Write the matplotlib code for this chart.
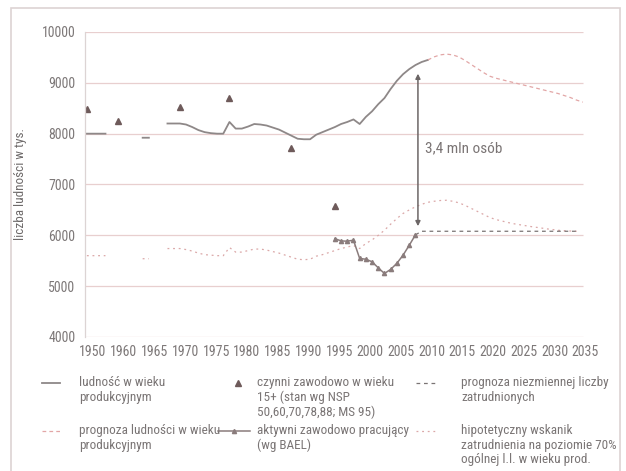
import numpy as np
import matplotlib
matplotlib.use('Agg')
import matplotlib.pyplot as plt
from matplotlib import font_manager
from matplotlib.lines import Line2D
from matplotlib.patches import Rectangle

# wąska czcionka, jeśli jest dostępna
available = {f.name for f in font_manager.fontManager.ttflist}
narrow = None
for name in ['Liberation Sans Narrow', 'DejaVu Sans Condensed', 'Roboto Condensed',
             'Open Sans Condensed', 'Noto Sans Condensed']:
    if name in available:
        narrow = name
        break
if narrow:
    plt.rcParams['font.family'] = [narrow, 'DejaVu Sans']
    scale = 1.0
else:
    plt.rcParams['font.family'] = ['Liberation Sans', 'DejaVu Sans']
    scale = 0.82

nan = np.nan

# ludność w wieku produkcyjnym (tys.)
pop_years = [1950, 1951, 1952, 1953, 1960, 1964, 1965, 1966,
             1968, 1969, 1970, 1971, 1972, 1973, 1974, 1975, 1976, 1977, 1978, 1979,
             1980, 1981, 1982, 1983, 1984, 1985, 1986, 1987, 1988, 1989, 1990, 1991,
             1992, 1993, 1994, 1995, 1996, 1997, 1998, 1999, 2000, 2001, 2002, 2003,
             2004, 2005, 2006, 2007, 2008, 2009, 2010]
pop_vals = [8000, 8000, 8000, 8000, nan, 7920, 7920, nan,
            8200, 8200, 8200, 8180, 8130, 8070, 8030, 8010, 8000, 8000, 8230, 8100,
            8100, 8140, 8190, 8180, 8160, 8120, 8080, 8020, 7960, 7900, 7890, 7890,
            7980, 8030, 8080, 8130, 8190, 8230, 8280, 8190, 8330, 8440, 8580, 8700,
            8880, 9040, 9170, 9270, 9350, 9410, 9450]

# prognoza ludności w wieku produkcyjnym
fc_years = list(range(2010, 2036))
fc_vals = [9450, 9510, 9550, 9565, 9550, 9510, 9440, 9360, 9280, 9200,
           9130, 9090, 9060, 9030, 9000, 8970, 8940, 8910, 8880, 8850,
           8820, 8790, 8750, 8710, 8660, 8620]

# czynni zawodowo 15+ (NSP / MS)
nsp_years = [1950, 1960, 1970, 1978, 1988, 1995]
nsp_vals = [8480, 8250, 8530, 8710, 7725, 6580]

# aktywni zawodowo pracujący (BAEL)
bael_years = list(range(1995, 2009))
bael_vals = [5935, 5890, 5885, 5905, 5545, 5530, 5480, 5360, 5250, 5330, 5450, 5610, 5805, 6010]

# prognoza niezmiennej liczby zatrudnionych
const_years = list(range(2008, 2035))
const_vals = [6010] + [6080] * 26

# hipotetyczny wskaźnik zatrudnienia 70%
hyp_years = [1950, 1951, 1952, 1953, 1960, 1964, 1965, 1966,
             1968, 1969, 1970, 1971, 1972, 1973, 1974, 1975, 1976, 1977, 1978, 1979,
             1980, 1981, 1982, 1983, 1984, 1985, 1986, 1987, 1988, 1989, 1990, 1991,
             1992, 1993, 1994, 1995, 1996, 1997, 1998, 1999, 2000, 2001, 2002, 2003,
             2004, 2005, 2006, 2007, 2008, 2009, 2010, 2011, 2012, 2013, 2014, 2015,
             2016, 2017, 2018, 2019, 2020, 2021, 2022, 2023, 2024, 2025, 2026, 2027,
             2028, 2029, 2030, 2031, 2032, 2033, 2034]
hyp_vals = [5600, 5600, 5600, 5600, nan, 5540, 5540, nan,
            5740, 5740, 5740, 5720, 5690, 5650, 5620, 5610, 5600, 5600, 5760, 5670,
            5670, 5700, 5730, 5730, 5710, 5680, 5650, 5610, 5570, 5530, 5520, 5530,
            5590, 5620, 5660, 5700, 5740, 5770, 5800, 5740, 5840, 5910, 6000, 6100,
            6220, 6330, 6430, 6500, 6560, 6610, 6650, 6670, 6685, 6690, 6670, 6640,
            6590, 6530, 6470, 6410, 6350, 6310, 6280, 6250, 6225, 6205, 6185, 6165,
            6150, 6130, 6115, 6100, 6090, 6085, 6080]

tick_labels = ['1950', '1960', '1965', '1970', '1975', '1980', '1985', '1990', '1995',
               '2000', '2005', '2010', '2015', '2020', '2025', '2030', '2035']


def pos(years):
    # lata 1950-1954 są na osi ściśnięte (oś kategorii)
    y = np.array(years, dtype=float)
    return np.where(y < 1955, y + 5, y)


W, H = 626, 471
fig = plt.figure(figsize=(W / 100, H / 100), dpi=100)


def fx(px):
    return px / W


def fy(py):
    return 1 - py / H


x0, x1 = 1954.7, 2036.0
ax_w = (x1 - x0) * 6.2
ax = fig.add_axes([fx(85), fy(337), fx(85 + ax_w) - fx(85), fy(32) - fy(337)])
ax.set_xlim(x0, x1)
ax.set_ylim(4000, 10000)

grid_c = '#e8cfcf'
ax.hlines(np.arange(4000, 10001, 1000), x0, 2035, color=grid_c, lw=0.9, zorder=0)
for s in ['top', 'right', 'bottom']:
    ax.spines[s].set_visible(False)
ax.spines['left'].set_color('#dcd4d4')
ax.spines['left'].set_linewidth(0.9)

ax.plot(pos(pop_years), pop_vals, color='#8e8888', lw=1.3)
ax.plot(pos(fc_years), fc_vals, color='#e2a6a6', lw=0.9, ls=(0, (3, 2.5)))
ax.plot(pos(hyp_years), hyp_vals, color='#dba8a8', lw=0.9, ls=(0, (1.5, 3)))
ax.plot(pos(const_years), const_vals, color='#7a7474', lw=0.9, ls=(0, (3, 3)))
ax.plot(pos(bael_years), bael_vals, color='#8a7c7c', lw=1.1, marker='^', ms=3,
        mfc='#8a7c7c', mec='#8a7c7c')
ax.plot(pos(nsp_years), nsp_vals, ls='none', marker='^', ms=5, color='#6e5a5a')

ax.annotate('', xy=(2008.4, 9180), xytext=(2008.4, 6180),
            arrowprops=dict(arrowstyle='<|-|>', color='#6c6666', lw=1.1,
                            mutation_scale=7, shrinkA=0, shrinkB=0))
ax.text(2009.5, 7720, '3,4 mln osób', fontsize=11 * scale, color='#7a7474', va='center')

ax.set_yticks(np.arange(4000, 10001, 1000))
ax.set_xticks(np.linspace(1956, 2035.4, 17))
ax.set_xticklabels(tick_labels)
ax.tick_params(length=0, labelsize=10 * scale, labelcolor='#7d7878', pad=7)
ax.tick_params(axis='x', pad=6)
ax.set_ylabel('liczba ludności w tys.', fontsize=9.5 * scale, color='#6e6a6a')
ax.yaxis.set_label_coords((27 - 85) / ax_w, 0.5)

# ramka wykresu
fig.add_artist(Rectangle((fx(11), fy(480)), fx(620) - fx(11), fy(8) - fy(480),
                         transform=fig.transFigure, fill=False, ec='#ddd3d3', lw=1.2))

# legenda
leg_c = '#7a7575'
entries = [
    (42, 60, 79, 383, 'ludność w wieku\nprodukcyjnym',
     dict(color='#8e8888', lw=1.3)),
    (232, 244, 257, 383, 'czynni zawodowo w wieku\n15+ (stan wg NSP\n50,60,70,78,88; MS 95)',
     None),
    (416, 438, 461, 383, 'prognoza niezmiennej liczby\nzatrudnionych',
     dict(color='#7a7474', lw=0.9, ls=(0, (3, 3)))),
    (42, 60, 79, 431, 'prognoza ludności w wieku\nprodukcyjnym',
     dict(color='#e2a6a6', lw=0.9, ls=(0, (3, 2.5)))),
    (218, 250, 257, 431, 'aktywni zawodowo pracujący\n(wg BAEL)',
     dict(color='#8a7c7c', lw=1.1)),
    (416, 438, 461, 431, 'hipotetyczny wskanik\nzatrudnienia na poziomie 70%\nogólnej l.l. w wieku prod.',
     dict(color='#dba8a8', lw=0.9, ls=(0, (1.5, 3)))),
]
for hx0, hx1, tx, ty, label, style in entries:
    if style is None:
        fig.add_artist(Line2D([fx((hx0 + hx1) / 2)], [fy(ty)], transform=fig.transFigure,
                              ls='none', marker='^', ms=5, color='#6e5a5a'))
    else:
        fig.add_artist(Line2D([fx(hx0), fx(hx1)], [fy(ty), fy(ty)],
                              transform=fig.transFigure, **style))
        if 'BAEL' in label:
            fig.add_artist(Line2D([fx((hx0 + hx1) / 2)], [fy(ty)], transform=fig.transFigure,
                                  ls='none', marker='^', ms=3, color='#8a7c7c'))
    fig.text(fx(tx), fy(ty - 7), label, fontsize=9.5 * scale, color=leg_c, va='top',
             ha='left', linespacing=1.3 if not narrow else 1.15)

fig.savefig('out.png', dpi=100, facecolor='white')
